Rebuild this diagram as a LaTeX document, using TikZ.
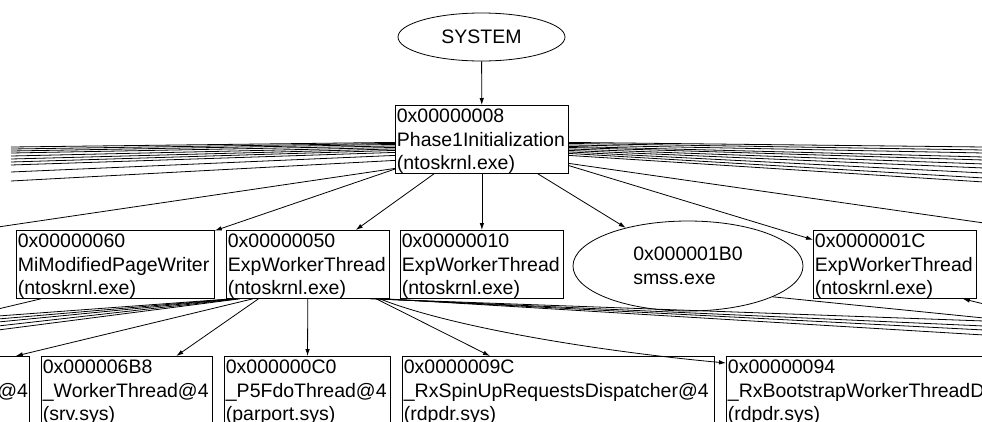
\documentclass[tikz,border=0pt]{standalone}
\usepackage{fontspec}
\setsansfont{Liberation Sans}
\usetikzlibrary{calc,arrows.meta,shapes.geometric}

\tikzset{
	thr/.style={draw, rectangle, anchor=north west, inner xsep=1.5pt, inner ysep=0pt,
		text height=17.5pt, text depth=50.5pt, align=left,
		font=\sffamily\fontsize{19.5}{23.5}\selectfont},
	proc/.style={draw, ellipse, inner sep=0pt, align=left,
		font=\sffamily\fontsize{19.5}{23.5}\selectfont},
	edge/.style={-{Latex[length=7pt,width=4.5pt]}},
}

\begin{document}
\begin{tikzpicture}[x=1pt,y=-1pt,line width=0.8pt]
			\useasboundingbox (0,0) rectangle (982,421);
			\clip (0,0) rectangle (982,421);
			%root
			\node[proc, minimum width=167pt, minimum height=48pt] (sys) at (481.5,37) {SYSTEM};
			\node[thr, text width=170pt] (ph1) at (395,105) {0x00000008\\Phase1Initialization\\(ntoskrnl.exe)};
			%second row
			\node[thr, text width=195pt] (mpw) at (16,230) {0x00000060\\MiModifiedPageWriter\\(ntoskrnl.exe)};
			\node[thr, text width=160pt] (ew50) at (226,230) {0x00000050\\ExpWorkerThread\\(ntoskrnl.exe)};
			\node[thr, text width=160pt] (ew10) at (400,230) {0x00000010\\ExpWorkerThread\\(ntoskrnl.exe)};
			\node[proc, minimum width=230pt, minimum height=90pt] (smss) at (688,266) {0x000001B0\\smss.exe};
			\node[thr, text width=160pt] (ew1c) at (813,230) {0x0000001C\\ExpWorkerThread\\(ntoskrnl.exe)};
			%third row
			\node[thr, text width=117pt, align=right] (part) at (-91,356) {\strut\\@4\\\strut};
			\node[thr, text width=168pt] (wt6b8) at (41,356) {0x000006B8\\\_WorkerThread@4\\(srv.sys)};
			\node[thr, text width=163pt] (p5c0) at (224,356) {0x000000C0\\\_P5FdoThread@4\\(parport.sys)};
			\node[thr, text width=309pt] (rx9c) at (402,356) {0x0000009C\\\_RxSpinUpRequestsDispatcher@4\\(rdpdr.sys)};
			\node[thr, text width=357pt] (rx94) at (726,356) {0x00000094\\\_RxBootstrapWorkerThreadD\\(rdpdr.sys)};

			%edges of the tree
			\draw[edge] (sys) -- (ph1);
			\draw[edge] (ph1) -- (mpw);
			\draw[edge] (ph1) -- (ew50);
			\draw[edge] (ph1) -- (ew10);
			\draw[edge] (ph1) -- (smss);
			\draw[edge] (ph1) -- (ew1c);
			\draw[edge] (ew50) -- (wt6b8);
			\draw[edge] (ew50) -- (p5c0);
			\draw[edge] (ew50) -- (rx9c);
			\draw[edge] ($(ew50.south)+(-55,0)$) -- ($(part.north east)+(-14,0)$);
			\draw[edge] ($(ew50.south east)+(-10,0)$) .. controls +(70,28) and +(-130,-12) .. ($(rx94.north west)+(0,7)$);

			%edges leaving the picture, left of Phase1
			\foreach \a/\b [count=\i] in {3/147,4/149,5/151,6.5/153,8/156,9.5/159,11/162,13/165,16/172,21/181}{
				\coordinate (pl\i) at (11,\b);
				\draw ($(ph1.west)+(0,\a)$) -- (pl\i);
			}
			\coordinate (pl0) at (-2,227);
			\draw ($(ph1.west)+(0,29)$) -- (pl0);
			%right of Phase1
			\foreach \a/\b [count=\i] in {3/147,4/150,5.5/153,7/157,8/160,9.5/164,11/168,12.5/173,14/178,16/182,24/223}{
				\coordinate (pr\i) at (984,\b);
				\draw ($(ph1.east)+(0,\a)$) -- (pr\i);
			}

			%edges leaving the picture below the second row
			\foreach \a/\b [count=\i] in {6/316,8/319,10/322,12/326,14/330}{
				\coordinate (ql\i) at (-2,\b);
				\draw ($(ew50.south west)+(\a,0)$) -- (ql\i);
			}
			\coordinate (ql0) at (-2,309);
			\draw ($(mpw.south west)+(25,0)$) -- (ql0);
			\foreach \a/\b [count=\i] in {-20/321,-15/326,-10/330,-5/335}{
				\coordinate (qr\i) at (984,\b);
				\draw ($(ew50.south east)+(\a,0)$) -- (qr\i);
			}
			\coordinate (qr0) at (984,318);
			\draw (smss.-20) -- (qr0);
			\coordinate (qin) at (984,304);
			\draw[edge] (qin) -- ($(ew1c.south east)+(-14,0)$);
\end{tikzpicture}
\end{document}
